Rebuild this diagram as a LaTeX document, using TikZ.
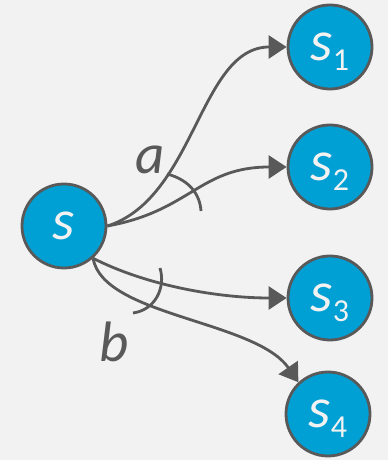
\documentclass[tikz,border=0pt]{standalone}
\usepackage{fontspec}
\setmainfont{Carlito}
\usetikzlibrary{arrows.meta}

\definecolor{stateblue}{RGB}{0,159,212}
\definecolor{darkgrey}{RGB}{89,89,89}
\definecolor{paper}{RGB}{242,242,242}

% lowered upright index after the state letter
\newcommand{\statesub}[1]{\raisebox{-10pt}[0pt][0pt]{\upshape\fontsize{32}{32}\selectfont #1}}

\begin{document}
\begin{tikzpicture}[x=1pt, y=1pt,
  state/.style={circle, draw=darkgrey, fill=stateblue, line width=2.8pt, minimum size=84pt, inner sep=0pt, text=paper, font=\fontsize{57}{57}\selectfont\itshape},
  link/.style={draw=darkgrey, line width=2.8pt, -{Triangle[length=18pt, width=23pt]}},
  anglearc/.style={draw=darkgrey, line width=2.8pt},
  lbl/.style={text=darkgrey, inner sep=0pt, font=\fontsize{57}{57}\selectfont\itshape}]
\fill[paper] (0,0) rectangle (388,460);
\useasboundingbox (0,0) rectangle (388,460);

\node[state] (s) at (64,234) {s};
\node[state] (s1) at (330,413) {s\statesub{1}};
\node[state] (s2) at (330,293) {s\statesub{2}};
\node[state] (s3) at (330,162) {s\statesub{3}};
\node[state] (s4) at (328,46) {s\statesub{4}};

% action a
\draw[link] (s.east) .. controls +(88,28) and +(-87,0) .. (s1.west);
\draw[link] (s.east) .. controls +(83,15) and +(-87,0) .. (s2.west);
\draw[anglearc] (167,286) .. controls (190,280) and (200,265) .. (201,249);
\node[lbl] (a) at (150,300) {a};

% action b
\draw[link] (s.-48) .. controls +(55,-28) and +(-67,0) .. (s3.west);
\draw[link] (s.-48) .. controls +(10,-58) and +(-43,62) .. (s4.133);
\draw[anglearc] (160,192) .. controls (166,172) and (155,150) .. (133,147);
\node[lbl] (b) at (114,118) {b};
\end{tikzpicture}
\end{document}
